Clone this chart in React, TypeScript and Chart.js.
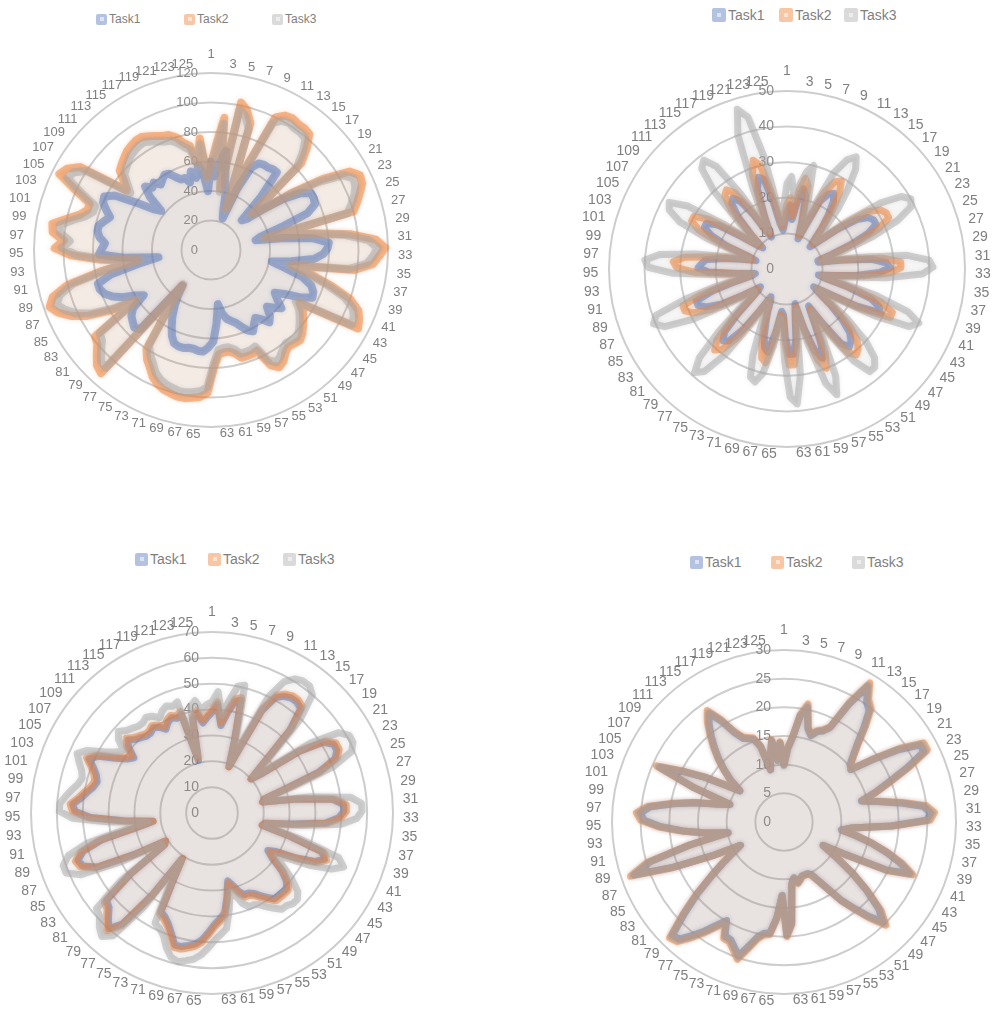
import React, { useEffect, useRef } from "react";
import { Chart, registerables } from "chart.js";

Chart.register(...registerables);

const FONT = '"Liberation Sans", Arial, sans-serif';

// categories 1..125
const categories: string[] = Array.from({ length: 125 }, (_, i) => String(i + 1));
const seriesNames = ["Task1", "Task2", "Task3"];

// ---------- Top-left chart (0..120) ----------
const tlTask1 = [
  60, 50, 60, 68, 48, 40, 28, 23, 45, 62, 67, 68, 68, 69, 69, 50, 29, 32, 45, 60, 72, 78, 78, 77, 70,
  50, 35, 31, 50, 70, 80, 79, 76, 70, 55, 42, 52, 65, 72, 75, 76, 68, 58, 52, 56, 62, 58, 54, 60, 63,
  58, 55, 58, 62, 60, 56, 52, 50, 48, 44, 37, 50, 62, 66, 69, 69, 68, 68, 69, 69, 68, 64, 58, 52, 45,
  38, 31, 72, 74, 72, 70, 66, 55, 60, 68, 74, 78, 80, 80, 70, 50, 36, 60, 76, 74, 72, 76, 78, 78, 75,
  72, 76, 80, 81, 75, 60, 48, 43, 55, 62, 58, 60, 56, 58, 60, 59, 55, 52, 52, 48, 55, 50, 58, 52, 40,
];
const tlTask2 = [
  58, 72, 90, 42, 102, 98, 90, 30, 62, 100, 104, 105, 104, 104, 103, 95, 85, 37, 45, 67, 90, 108, 113, 112, 108,
  104, 100, 38, 70, 95, 112, 118, 114, 110, 98, 56, 70, 85, 100, 108, 111, 113, 70, 75, 78, 81, 84, 86, 85, 84,
  86, 90, 92, 88, 75, 76, 76, 76, 72, 70, 70, 71, 80, 97, 100, 101, 102, 102, 101, 100, 98, 95, 90, 86, 80,
  50, 31, 112, 110, 105, 100, 98, 62, 80, 95, 105, 112, 116, 112, 100, 75, 50, 75, 95, 106, 100, 108, 109, 100, 92,
  88, 88, 100, 115, 112, 105, 70, 75, 82, 84, 86, 88, 89, 90, 90, 88, 86, 84, 83, 80, 75, 72, 60, 76, 50,
];
const tlTask3 = [
  55, 68, 86, 40, 97, 94, 86, 29, 59, 96, 100, 101, 100, 100, 99, 91, 81, 36, 43, 64, 86, 103, 108, 107, 104,
  100, 96, 37, 67, 91, 107, 113, 110, 106, 94, 54, 67, 81, 96, 104, 107, 108, 67, 72, 75, 78, 81, 83, 82, 81,
  83, 86, 88, 84, 72, 73, 73, 73, 69, 67, 67, 68, 77, 93, 96, 97, 98, 98, 97, 96, 94, 91, 86, 82, 77,
  48, 30, 107, 106, 101, 96, 94, 60, 77, 91, 101, 107, 111, 107, 96, 72, 48, 72, 91, 101, 96, 103, 104, 96, 88,
  84, 84, 96, 109, 107, 100, 67, 72, 78, 80, 82, 84, 85, 86, 86, 84, 82, 80, 79, 76, 72, 69, 57, 72, 48,
];

// ---------- Top-right chart (0..50) ----------
const trTask1 = [
  16, 18, 14, 19, 23, 21, 14, 9, 13, 21, 24, 25, 23, 19, 15, 11, 9, 12, 18, 24, 27, 28, 28, 25, 19,
  13, 9, 9, 15, 24, 28, 29, 26, 20, 13, 9, 11, 18, 25, 28, 29, 22, 13, 9, 11, 16, 21, 25, 27, 28,
  26, 18, 12, 16, 23, 27, 24, 17, 10, 13, 20, 24, 24, 19, 13, 12, 18, 24, 23, 20, 16, 13, 10, 9, 14,
  21, 26, 27, 25, 19, 13, 10, 9, 14, 21, 25, 27, 27, 22, 15, 10, 9, 14, 22, 25, 24, 23, 18, 13, 9,
  11, 18, 23, 26, 26, 23, 16, 11, 9, 14, 20, 24, 25, 23, 18, 12, 10, 16, 24, 27, 26, 19, 13, 11, 13,
];
const trTask2 = [
  18, 20, 15, 22, 26, 24, 15, 10, 15, 24, 28, 29, 26, 21, 16, 12, 10, 13, 20, 28, 31, 32, 32, 28, 21,
  14, 10, 10, 17, 27, 32, 32, 29, 22, 14, 10, 12, 20, 28, 32, 32, 24, 14, 10, 12, 18, 24, 28, 30, 31,
  29, 20, 13, 18, 26, 30, 27, 19, 11, 14, 22, 27, 27, 21, 14, 13, 20, 27, 26, 22, 18, 14, 11, 10, 15,
  24, 29, 30.5, 28, 21, 14, 11, 10, 15, 24, 29, 31, 31, 25, 17, 11, 10, 15, 26, 31, 32, 29, 21, 14, 10,
  12, 20, 27, 30, 30, 26, 18, 12, 10, 15, 23, 27, 28, 26, 20, 13, 11, 18, 28, 32, 30, 22, 15, 12, 15,
];
const trTask3 = [
  24, 26, 20, 24, 28, 30, 20, 11, 18, 30, 35, 37, 34, 28, 22, 15, 11, 14, 22, 32, 38, 40, 39, 34, 26,
  17, 11, 10, 20, 34, 40, 41, 38, 28, 16, 10, 14, 26, 36, 40, 38, 28, 16, 10, 14, 22, 30, 35, 37, 37,
  32, 22, 14, 22, 33, 38, 34, 22, 12, 16, 30, 38, 36, 26, 16, 14, 22, 30, 33, 32, 26, 18, 12, 10, 18,
  30, 37, 39, 35, 26, 17, 12, 11, 18, 30, 38, 40.5, 39, 30, 20, 12, 10, 18, 32, 39, 40, 36, 26, 16, 11,
  14, 24, 33, 37, 38, 33, 22, 13, 11, 18, 30, 37, 38.5, 35, 25, 15, 12, 24, 40, 47, 44, 32, 18, 13, 18,
];

// ---------- Bottom-left chart (0..70) ----------
const blTask1 = [
  39, 42, 34, 39, 44, 45, 29, 19, 27, 44, 51, 53, 54, 54, 53, 44, 27, 20, 25, 41, 51, 54, 54, 52, 44,
  29, 21, 20, 33, 47, 51, 51, 49, 44, 31, 21, 20, 31, 45, 47, 44, 37, 29, 26, 29, 35, 39, 41, 41, 41,
  41, 39, 37, 35, 34, 34, 32, 29, 27, 33, 39, 41, 43, 46, 49, 51, 52, 53, 53, 49, 46, 44, 43, 29, 21,
  39, 55, 60, 57, 54, 53, 39, 22, 21, 34, 49, 54, 55, 52, 44, 29, 23, 34, 47, 53, 54, 51, 49, 47, 46,
  47, 49, 52, 49, 43, 39, 37, 41, 43, 41, 40, 39, 39, 40, 39, 37, 39, 40, 39, 40, 21, 37, 39, 35, 37,
];
const blTask2 = [
  40, 43, 35, 40, 45, 46, 30, 19, 28, 45, 52, 54, 55, 55, 54, 45, 28, 20, 26, 42, 52, 55, 55, 53, 45,
  30, 21, 20, 34, 48, 52, 52, 50, 45, 32, 21, 20, 32, 46, 48, 45, 38, 30, 27, 30, 36, 40, 42, 42, 42,
  42, 40, 38, 36, 35, 35, 33, 30, 28, 34, 40, 42, 44, 47, 50, 52, 53, 54, 54, 50, 47, 45, 44, 30, 21,
  40, 56, 61, 58, 55, 54, 40, 22, 21, 35, 50, 55, 56, 53, 45, 30, 23, 35, 48, 54, 55, 52, 50, 48, 47,
  48, 50, 53, 50, 44, 40, 38, 42, 44, 42, 41, 40, 40, 41, 40, 38, 40, 41, 40, 41, 22, 38, 40, 36, 38,
];
const blTask3 = [
  43, 47, 38, 44, 50, 51, 33, 20, 31, 50, 58, 61, 62, 62, 60, 50, 31, 21, 29, 47, 58, 61, 61, 59, 50,
  33, 22, 21, 38, 54, 58, 58, 56, 50, 35, 22, 21, 36, 52, 55, 51, 43, 34, 30, 34, 40, 45, 47, 47, 46,
  46, 44, 42, 40, 39, 39, 37, 33, 31, 38, 45, 47, 49, 52, 55, 57, 58, 59, 58, 55, 51, 49, 48, 33, 22,
  45, 61, 64, 62, 59, 58, 44, 23, 23, 40, 56, 61, 61, 58, 50, 34, 25, 40, 54, 59, 59, 57, 55, 53, 52,
  53, 55, 57, 54, 48, 44, 42, 46, 48, 46, 45, 44, 44, 45, 44, 42, 44, 45, 44, 45, 23, 42, 44, 40, 42,
];

// ---------- Bottom-right chart (0..30) ----------
const brTask1 = [
  10, 12.8, 14.8, 18.7, 20.4, 16.8, 15.8, 16.8, 17.3, 18.3, 23.4, 27.8, 25.4, 24.4, 21.5, 18.7, 16.8, 15.3, 14.8, 18.7, 23.4, 27.3, 27.3, 23.4, 19.6,
  16.8, 14, 16.8, 20.5, 24.4, 25.6, 24.9, 18.7, 11.8, 10.1, 12.8, 15.8, 18.7, 21.5, 23.7, 19.6, 11.8, 7.9, 10.8, 14.8, 18.7, 22.4, 24.6, 22, 19.2,
  16.8, 13.8, 11.8, 10.3, 9.9, 9.9, 9.9, 10.3, 10.8, 9.9, 10.8, 17.7, 19.7, 12.8, 16.8, 19.5, 19.7, 20.6, 22.5, 24.7, 23.5, 22.5, 22.4, 19.9, 21.5,
  23.5, 25.4, 27.4, 27.7, 23.5, 19.6, 15.8, 12.8, 10.3, 8.6, 13.8, 20.6, 27.7, 24.4, 16.8, 9.9, 13.8, 17.7, 21.5, 24.4, 25.1, 23.5, 19.6, 15.8, 11.8,
  9.9, 16.8, 23.7, 19.6, 15.8, 11.8, 9.4, 11.8, 13.8, 15.8, 17.7, 19.6, 21.5, 23, 20.6, 17.7, 16.2, 15.8, 15.4, 13.8, 9.4, 11.8, 14.3, 10.8, 13.8,
];
const brTask2 = [
  10, 13, 15, 19, 21, 17, 16, 17, 17.5, 18.5, 24, 28.5, 26, 25, 22, 19, 17, 15.5, 15, 19, 24, 28, 28, 24, 20,
  17, 14.2, 17, 21, 25, 26.3, 25.5, 19, 12, 10.3, 13, 16, 19, 22, 24.3, 20, 12, 8, 11, 15, 19, 23, 25.3, 22.5, 19.5,
  17, 14, 12, 10.5, 10, 10, 10, 10.5, 11, 10, 11, 18, 20, 13, 17, 19.8, 20, 21, 23, 25.3, 24, 23, 22.9, 20.3, 22,
  24, 26, 28, 28.4, 24, 20, 16, 13, 10.5, 8.7, 14, 21, 28.4, 25, 17, 10, 14, 18, 22, 25, 25.8, 24, 20, 16, 12,
  10, 17, 24.3, 20, 16, 12, 9.5, 12, 14, 16, 18, 20, 22, 23.6, 21, 18, 16.5, 16, 15.6, 14, 9.5, 12, 14.5, 11, 14,
];
const brTask3 = [
  9.8, 12.8, 14.8, 18.7, 20.7, 16.8, 15.8, 16.8, 17.2, 18.2, 23.7, 28.1, 25.7, 24.7, 21.7, 18.8, 16.8, 15.3, 14.8, 18.8, 23.7, 27.7, 27.7, 23.7, 19.7,
  16.8, 14, 16.8, 20.7, 24.7, 26, 25.2, 18.8, 11.9, 10.2, 12.8, 15.8, 18.8, 21.7, 24, 19.7, 11.9, 7.9, 10.9, 14.8, 18.8, 22.7, 25, 22.2, 19.3,
  16.8, 13.8, 11.9, 10.4, 9.9, 9.9, 9.9, 10.4, 10.9, 9.9, 10.9, 17.8, 19.8, 12.8, 16.8, 19.6, 19.8, 20.7, 22.7, 25, 23.7, 22.7, 22.6, 20, 21.7,
  23.7, 25.7, 27.7, 28.1, 23.7, 19.7, 15.8, 12.8, 10.4, 8.6, 13.8, 20.7, 28.1, 24.7, 16.8, 9.9, 13.8, 17.8, 21.7, 24.7, 25.5, 23.7, 19.7, 15.8, 11.9,
  9.9, 16.8, 24, 19.7, 15.8, 11.9, 9.4, 11.9, 13.8, 15.8, 17.8, 19.7, 21.7, 23.3, 20.7, 17.8, 16.3, 15.8, 15.4, 13.8, 9.4, 11.9, 14.3, 10.9, 13.8,
];

const LINE = ["rgba(68,114,196,0.5)", "rgba(237,125,49,0.5)", "rgba(165,165,165,0.48)"];
const FILL = ["rgba(68,114,196,0.08)", "rgba(237,125,49,0.09)", "rgba(165,165,165,0.10)"];
const MARK = ["#b4c2e2", "#f7c7a5", "#dadada"];
const MARK_IN = ["#dbe2f1", "#fbe2d1", "#ededed"];
// Excel draws series 1 first, so later series sit on top
const ORDER = [2, 1, 0];

// soft glow around each series line
const glowPlugin = {
  id: "glow",
  beforeDatasetDraw(chart: any, args: any, opts: any) {
    const ctx = chart.ctx;
    ctx.save();
    ctx.shadowColor = LINE[args.index];
    ctx.shadowBlur = opts.blur;
  },
  afterDatasetDraw(chart: any) {
    chart.ctx.restore();
  },
};

// tick labels on the vertical axis, drawn at the scale's own tick distances
const tickLabelPlugin = {
  id: "tickLabels",
  beforeDatasetsDraw(chart: any, _args: any, opts: any) {
    const s = chart.scales.r;
    const ctx = chart.ctx;
    ctx.save();
    ctx.font = `${opts.size}px ${FONT}`;
    ctx.fillStyle = "#8a8a8a";
    ctx.textAlign = "right";
    ctx.textBaseline = "middle";
    s.ticks.forEach((t: any) => {
      const d = s.getDistanceFromCenterForValue(t.value);
      ctx.fillText(String(t.value), s.xCenter - opts.gap, s.yCenter - d);
    });
    ctx.restore();
  },
};

// category labels around the circle, placed Excel-like from the scale's point positions
const catLabelPlugin = {
  id: "catLabels",
  afterDatasetsDraw(chart: any, _args: any, opts: any) {
    const s = chart.scales.r;
    const ctx = chart.ctx;
    const k = opts.size / 13;
    ctx.save();
    ctx.font = `${opts.size}px ${FONT}`;
    ctx.fillStyle = "#7f7f7f";
    ctx.textBaseline = "middle";
    const labels: string[] = chart.data.labels;
    for (let i = 0; i < labels.length; i += 2) {
      const a = s.getIndexAngle(i);
      const sn = Math.sin(a);
      const cs = Math.cos(a);
      const p = s.getPointPosition(i, s.drawingArea + opts.pad);
      let x = p.x;
      let y = p.y;
      if (Math.abs(sn) < 0.02 && cs > 0) {
        ctx.textAlign = "center";
        y = p.y - 11 * k;
      } else if (sn > 0) {
        ctx.textAlign = "left";
        x = p.x + 2 * (1 - cs) * k;
        y = p.y - 1.5 * k;
      } else {
        ctx.textAlign = "right";
        x = p.x - (2.5 + 6 * cs) * k;
        y = p.y + (7 * Math.abs(sn) - 1) * k;
      }
      ctx.fillText(labels[i], x, y);
    }
    ctx.restore();
  },
};

type PanelProps = {
  left: number;
  top: number;
  width: number;
  height: number;
  cx: number;
  cy: number;
  radius: number;
  max: number;
  step: number;
  labelSize: number;
  tickSize: number;
  lineWidth: number;
  data: number[][];
};

function RadarPanel(p: PanelProps) {
  const ref = useRef<HTMLCanvasElement>(null);
  useEffect(() => {
    const lx = p.cx - p.left;
    const ly = p.cy - p.top;
    const chart = new Chart(ref.current as HTMLCanvasElement, {
      type: "radar",
      data: {
        labels: categories,
        datasets: p.data.map((d, i) => ({
          label: seriesNames[i],
          data: d,
          order: ORDER[i],
          borderColor: LINE[i],
          backgroundColor: FILL[i],
          borderWidth: p.lineWidth,
          fill: true,
          pointRadius: 0,
          pointHoverRadius: 0,
          borderJoinStyle: "round",
          tension: 0,
        })),
      },
      options: {
        responsive: false,
        animation: false,
        events: [],
        layout: {
          padding: {
            left: lx - p.radius,
            top: ly - p.radius,
            right: p.width - lx - p.radius,
            bottom: p.height - ly - p.radius,
          },
        },
        plugins: {
          legend: { display: false },
          tooltip: { enabled: false },
          glow: { blur: 4 },
          tickLabels: { size: p.tickSize, gap: 13 },
          catLabels: { size: p.labelSize, pad: 8 },
        } as any,
        scales: {
          r: {
            min: 0,
            max: p.max,
            ticks: { stepSize: p.step, display: false },
            grid: { circular: true, color: "#cdcdcd", lineWidth: 2 },
            angleLines: { display: false },
            pointLabels: { display: false },
          },
        },
      },
      plugins: [glowPlugin, tickLabelPlugin, catLabelPlugin],
    });
    return () => chart.destroy();
  }, []);
  return (
    <canvas
      ref={ref}
      width={p.width}
      height={p.height}
      style={{ position: "absolute", left: p.left, top: p.top, width: p.width, height: p.height }}
    />
  );
}

function Legend({ xs, y, font, box }: { xs: number[]; y: number; font: number; box: number }) {
  return (
    <>
      {seriesNames.map((n, i) => (
        <div
          key={n}
          style={{
            position: "absolute",
            left: xs[i],
            top: y - box / 2,
            height: box,
            display: "flex",
            alignItems: "center",
            fontFamily: FONT,
            fontSize: font,
            color: "#7f7f7f",
            whiteSpace: "nowrap",
          }}
        >
          <span
            style={{
              width: box,
              height: box,
              background: MARK[i],
              borderRadius: 2,
              display: "inline-flex",
              alignItems: "center",
              justifyContent: "center",
              marginRight: 2,
            }}
          >
            <span style={{ width: 4, height: 4, background: MARK_IN[i] }} />
          </span>
          {n}
        </div>
      ))}
    </>
  );
}

export default function App() {
  return (
    <div style={{ position: "absolute", left: 0, top: 0, width: 992, height: 1012, background: "#ffffff", overflow: "hidden" }}>
      <Legend xs={[96, 184, 272]} y={19} font={12} box={11} />
      <Legend xs={[712, 779, 844]} y={15} font={14} box={14} />
      <Legend xs={[135, 208, 283]} y={559} font={14} box={13} />
      <Legend xs={[690, 771, 852]} y={562} font={14} box={13} />
      <RadarPanel left={0} top={30} width={496} height={476} cx={211} cy={250} radius={177} max={120} step={20} labelSize={13} tickSize={13} lineWidth={8} data={[tlTask1, tlTask2, tlTask3]} />
      <RadarPanel left={496} top={30} width={496} height={476} cx={787} cy={269} radius={178} max={50} step={10} labelSize={14} tickSize={14} lineWidth={7} data={[trTask1, trTask2, trTask3]} />
      <RadarPanel left={0} top={576} width={496} height={436} cx={212} cy={813} radius={181} max={70} step={10} labelSize={14} tickSize={14} lineWidth={7} data={[blTask1, blTask2, blTask3]} />
      <RadarPanel left={496} top={576} width={496} height={436} cx={784} cy={822} radius={172} max={30} step={5} labelSize={14} tickSize={14} lineWidth={7} data={[brTask1, brTask2, brTask3]} />
    </div>
  );
}
